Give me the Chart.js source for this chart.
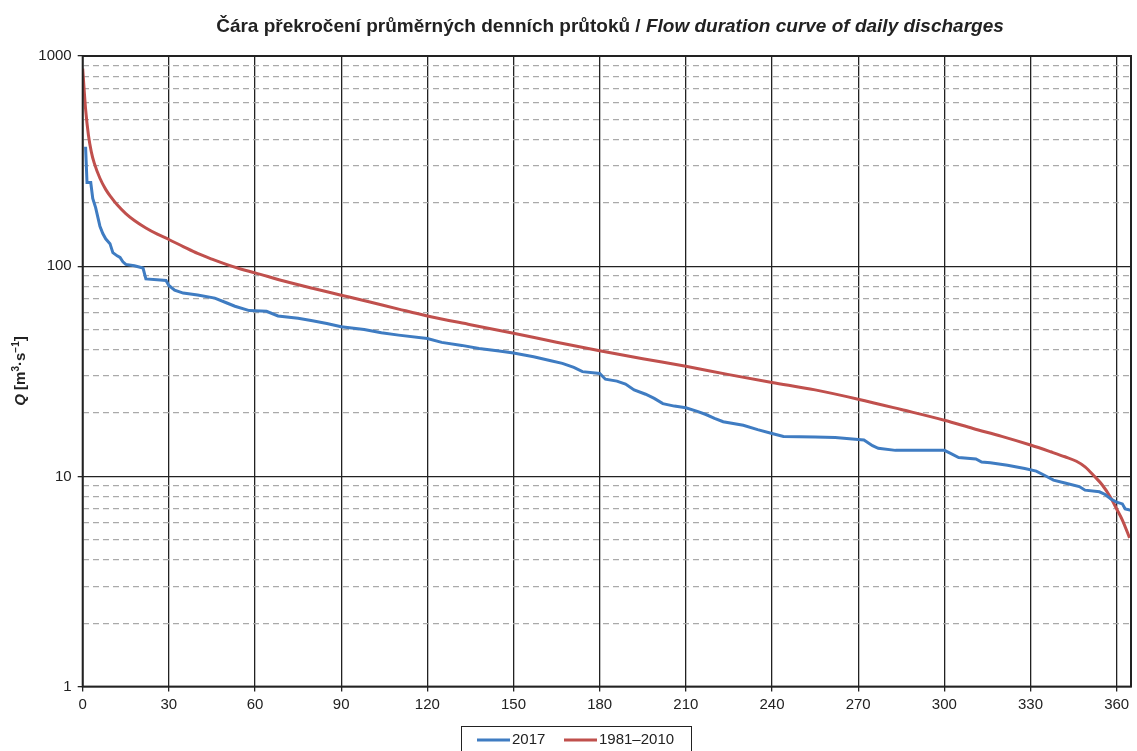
<!DOCTYPE html>
<html>
<head>
<meta charset="utf-8">
<script src="https://cdn.jsdelivr.net/npm/chart.js@4.4.1/dist/chart.umd.min.js"></script>
<style>
  html, body { margin: 0; padding: 0; background: #fff; }
  #wrap { width: 1137px; height: 751px; position: relative; }
</style>
</head>
<body>
<div id="wrap"><canvas id="fdc"></canvas></div>
<script>
// Flow duration curve - daily discharges, 2017 vs. 1981–2010 reference period

const xTicks = [0, 30, 60, 90, 120, 150, 180, 210, 240, 270, 300, 330, 360];
const yTicks = [1, 2, 3, 4, 5, 6, 7, 8, 9, 10, 20, 30, 40, 50, 60, 70, 80, 90,
  100, 200, 300, 400, 500, 600, 700, 800, 900, 1000];

const days2017 = [1, 1.5, 2.8, 3.5, 4.5, 6, 7, 8, 9.5, 10.5, 12, 13, 14, 15, 18, 21, 22, 27, 29, 30,
  32, 35, 40, 46, 50, 53, 58, 64, 68, 75, 80, 85, 90, 98, 104, 110, 120, 125, 132, 138,
  145, 150, 157, 163, 167, 171, 174, 180, 182, 186, 189, 192, 196, 199, 202, 206, 210, 214, 217, 220,
  223, 230, 235, 240, 244, 255, 262, 270, 272, 275, 277, 283, 300, 302, 305, 311, 313, 316, 322, 328,
  332, 335, 338, 342, 347, 349, 354, 356, 358, 360, 362, 363, 365];
const q2017 = [370, 250, 250, 210, 190, 155, 143, 135, 128, 116, 112, 110, 105, 102, 100.5, 98, 87, 86, 85.5, 81,
  77, 74.5, 73, 70.5, 67, 64.5, 61.5, 61, 58, 56.5, 55, 53.4, 51.5, 50, 48.2, 47, 45.3, 43.4, 42, 40.6,
  39.5, 38.6, 37.1, 35.5, 34.5, 33, 31.5, 30.9, 29, 28.4, 27.5, 25.8, 24.6, 23.5, 22.2, 21.6, 21.2, 20.4, 19.7, 18.9,
  18.2, 17.5, 16.7, 16.0, 15.5, 15.4, 15.3, 15.0, 14.9, 14.0, 13.6, 13.3, 13.3, 12.9, 12.3, 12.1, 11.7, 11.6, 11.3, 10.9,
  10.6, 10.1, 9.6, 9.3, 8.95, 8.6, 8.45, 8.2, 7.8, 7.55, 7.4, 7.0, 6.9];

// 1981–2010 reference curve
const daysRef = [0, 1, 2, 3, 4, 6, 8, 10, 12, 15, 18, 22, 26, 30, 35, 40, 45, 50, 55, 60,
  70, 80, 90, 100, 110, 120, 135, 150, 165, 180, 195, 210, 225, 240, 255, 270, 285, 300, 310, 320,
  330, 337, 342, 346, 349, 352, 355, 358, 360, 362, 364.5];
const qRef = [870, 560, 420, 350, 310, 262, 232, 212, 196, 178, 165, 152, 142, 134, 124, 115, 108, 102, 97, 93,
  85, 78.5, 72.8, 67.5, 62.5, 58, 52.7, 48, 43.5, 39.6, 36.3, 33.4, 30.5, 28, 25.8, 23.3, 20.8, 18.5, 16.9, 15.5,
  14.1, 13.1, 12.4, 11.8, 11.1, 10.1, 9.1, 7.9, 7.0, 6.2, 5.1];

const seriesLabels = ['2017', '1981–2010'];
const seriesColors = ['#3f7cc2', '#c0504d'];

const FONT = '"Liberation Sans", Arial, sans-serif';
const INK = '#222';

function toPoints(xs, ys) {
  return xs.map((x, i) => ({ x: x, y: ys[i] }));
}

function isDecade(v) {
  const l = Math.log10(v);
  return Math.abs(l - Math.round(l)) < 1e-9;
}

// Title, y-axis caption, frame and legend drawn by hand (mixed upright/italic text)
const decorPlugin = {
  id: 'decor',
  afterDraw(chart) {
    const ctx = chart.ctx;
    const area = chart.chartArea;
    ctx.save();

    // frame
    ctx.strokeStyle = INK;
    ctx.lineWidth = 2;
    ctx.strokeRect(area.left, area.top, area.right - area.left, area.bottom - area.top);

    // title
    const t1 = 'Čára překročení průměrných denních průtoků / ';
    const t2 = 'Flow duration curve of daily discharges';
    const f1 = 'bold 19px ' + FONT;
    const f2 = 'italic bold 19px ' + FONT;
    ctx.font = f1; const w1 = ctx.measureText(t1).width;
    ctx.font = f2; const w2 = ctx.measureText(t2).width;
    let tx = 610 - (w1 + w2) / 2;
    ctx.fillStyle = INK;
    ctx.textBaseline = 'middle';
    ctx.textAlign = 'left';
    ctx.font = f1; ctx.fillText(t1, tx, 27);
    ctx.font = f2; ctx.fillText(t2, tx + w1, 27);

    // y-axis caption
    ctx.save();
    ctx.translate(21, 371);
    ctx.rotate(-Math.PI / 2);
    const parts = [
      { s: 'Q', f: 'italic bold 15px ' + FONT, dy: 0 },
      { s: ' [m', f: 'bold 15px ' + FONT, dy: 0 },
      { s: '3', f: 'bold 10px ' + FONT, dy: -5 },
      { s: '·s', f: 'bold 15px ' + FONT, dy: 0 },
      { s: '−1', f: 'bold 10px ' + FONT, dy: -5 },
      { s: ']', f: 'bold 15px ' + FONT, dy: 0 }
    ];
    let total = 0;
    parts.forEach(p => { ctx.font = p.f; p.w = ctx.measureText(p.s).width; total += p.w; });
    let px = -total / 2;
    parts.forEach(p => {
      ctx.font = p.f;
      ctx.fillText(p.s, px, p.dy);
      px += p.w;
    });
    ctx.restore();

    // legend
    ctx.lineWidth = 1;
    ctx.strokeStyle = INK;
    ctx.strokeRect(461.5, 726.5, 230, 40);
    ctx.font = '15px ' + FONT;
    const items = [
      { x: 477, label: seriesLabels[0], color: seriesColors[0] },
      { x: 564, label: seriesLabels[1], color: seriesColors[1] }
    ];
    items.forEach(it => {
      ctx.strokeStyle = it.color;
      ctx.lineWidth = 3;
      ctx.beginPath();
      ctx.moveTo(it.x, 740);
      ctx.lineTo(it.x + 33, 740);
      ctx.stroke();
      ctx.fillStyle = INK;
      ctx.fillText(it.label, it.x + 35, 740);
    });

    ctx.restore();
  }
};

const ctx = document.getElementById('fdc');
new Chart(ctx, {
  type: 'line',
  data: {
    datasets: [
      {
        label: seriesLabels[0],
        data: toPoints(days2017, q2017),
        borderColor: seriesColors[0],
        borderWidth: 3,
        pointRadius: 0,
        tension: 0
      },
      {
        label: seriesLabels[1],
        data: toPoints(daysRef, qRef),
        borderColor: seriesColors[1],
        borderWidth: 3,
        pointRadius: 0,
        cubicInterpolationMode: 'monotone'
      }
    ]
  },
  options: {
    responsive: true,
    maintainAspectRatio: false,
    animation: false,
    layout: { padding: { left: 0, right: 6, top: 56, bottom: 0 } },
    plugins: {
      legend: { display: false },
      title: { display: false },
      tooltip: { enabled: false }
    },
    scales: {
      x: {
        type: 'linear',
        min: 0,
        max: 365,
        afterBuildTicks: scale => { scale.ticks = xTicks.map(v => ({ value: v })); },
        afterFit: scale => { scale.height = 64.4; },
        ticks: {
          color: INK,
          font: { family: FONT, size: 15 },
          padding: 4,
          maxRotation: 0
        },
        grid: {
          color: INK,
          lineWidth: 1.3,
          tickLength: 5,
          tickColor: INK
        },
        border: { display: false }
      },
      y: {
        type: 'logarithmic',
        min: 1,
        max: 1000,
        afterBuildTicks: scale => { scale.ticks = yTicks.map(v => ({ value: v })); },
        afterFit: scale => { scale.width = 82.7; },
        ticks: {
          autoSkip: false,
          color: INK,
          font: { family: FONT, size: 15 },
          padding: 6,
          callback: v => (isDecade(v) ? String(v) : '')
        },
        grid: {
          color: c => (c.tick && isDecade(c.tick.value) ? INK : '#aaaaaa'),
          lineWidth: 1.3,
          tickLength: 5,
          tickColor: c => (c.tick && isDecade(c.tick.value) ? INK : 'rgba(0,0,0,0)')
        },
        border: {
          display: false,
          dash: c => (c.tick && !isDecade(c.tick.value) ? [6, 4] : [])
        }
      }
    }
  },
  plugins: [decorPlugin]
});
</script>
</body>
</html>
